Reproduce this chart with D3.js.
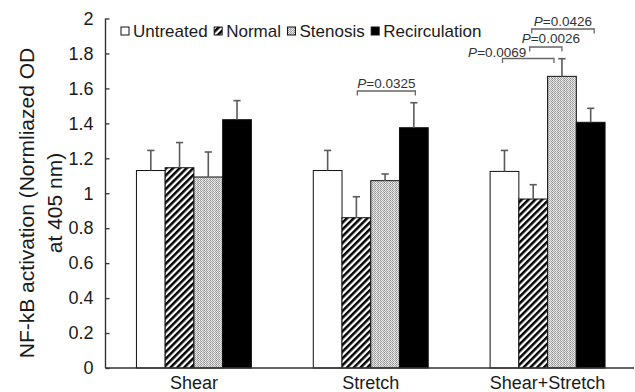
<!DOCTYPE html>
<html>
<head>
<meta charset="utf-8">
<script src="https://cdn.jsdelivr.net/npm/d3@7"></script>
<style>
  body { margin: 0; background: #fff; }
  svg { display: block; font-family: Arial, "Liberation Sans", sans-serif; }
</style>
</head>
<body>
<svg id="chart" width="635" height="392"></svg>
<script>
// NF-kB activation per flow condition
const categories = ["Shear", "Stretch", "Shear+Stretch"];
const seriesNames = ["Untreated", "Normal", "Stenosis", "Recirculation"];

const untreated        = [1.13, 1.13, 1.125];
const untreatedErr     = [0.115, 0.115, 0.12];
const normal           = [1.146, 0.86, 0.967];
const normalErr        = [0.144, 0.12, 0.082];
const stenosis         = [1.093, 1.072, 1.669];
const stenosisErr      = [0.143, 0.038, 0.101];
const recirculation    = [1.421, 1.375, 1.406];
const recirculationErr = [0.109, 0.143, 0.08];

const yTicks     = [0, 0.2, 0.4, 0.6, 0.8, 1, 1.2, 1.4, 1.6, 1.8, 2];
const tickLabels = ["0", "0.2", "0.4", "0.6", "0.8", "1", "1.2", "1.4", "1.6", "1.8", "2"];

// significance comparisons (level in axis units)
const comparisons = [
  { group: "Stretch",       from: "Normal",    to: "Recirculation", level: 1.585, p: "0.0325" },
  { group: "Shear+Stretch", from: "Untreated", to: "Stenosis",      level: 1.771, p: "0.0069" },
  { group: "Shear+Stretch", from: "Normal",    to: "Stenosis",      level: 1.837, p: "0.0026" },
  { group: "Shear+Stretch", from: "Normal",    to: "Recirculation", level: 1.94,  p: "0.0426" }
];
// bracket end / label nudges in px (l, r: bracket ends; t: label shift; b: label lift)
const bracketNudge = [
  { l: 1,    r: 1.5, t: 0,   b: 3 },
  { l: -2,   r: -8,  t: -31, b: 1.5 },
  { l: -3.5, r: 0,   t: 5,   b: 4 },
  { l: -1.5, r: 3.5, t: 0,   b: 3 }
];

const values = [untreated, normal, stenosis, recirculation];
const errors = [untreatedErr, normalErr, stenosisErr, recirculationErr];

const svg = d3.select("#chart");
const x0 = 105.5, xEnd = 634, yTop = 18.5, yBot = 368;

const x = d3.scaleBand().domain(categories).range([x0, xEnd + 2])
  .paddingInner(0.35).paddingOuter(0.175);
const xs = d3.scaleBand().domain(seriesNames).range([0, x.bandwidth()]).padding(0);
const y = d3.scaleLinear().domain([0, 2]).range([yBot, yTop]);

// fill patterns
const defs = svg.append("defs");
const hatch = defs.append("pattern").attr("id", "hatch")
  .attr("patternUnits", "userSpaceOnUse").attr("width", 4.8).attr("height", 4.8)
  .attr("patternTransform", "rotate(45)");
hatch.append("rect").attr("width", 4.8).attr("height", 4.8).attr("fill", "#fff");
hatch.append("rect").attr("width", 2.5).attr("height", 4.8).attr("fill", "#000");

const stip = defs.append("pattern").attr("id", "stipple")
  .attr("patternUnits", "userSpaceOnUse").attr("width", 6).attr("height", 2);
const stipCols = [["#8a8a8a", "#e6e6e6"], ["#f2f2f2", "#a8a8a8"], ["#9c9c9c", "#dcdcdc"],
                  ["#ececec", "#9a9a9a"], ["#b0b0b0", "#f0f0f0"], ["#dedede", "#a0a0a0"]];
stipCols.forEach((c, i) => {
  stip.append("rect").attr("x", i).attr("y", 0).attr("width", 1).attr("height", 1).attr("fill", c[0]);
  stip.append("rect").attr("x", i).attr("y", 1).attr("width", 1).attr("height", 1).attr("fill", c[1]);
});

const fills = ["#fff", "url(#hatch)", "url(#stipple)", "#000"];

// bars
const rows = [];
categories.forEach((cat, ci) => {
  seriesNames.forEach((s, si) => {
    rows.push({ cat, s, si, v: values[si][ci], e: errors[si][ci] });
  });
});

const g = svg.append("g");
g.selectAll("rect.bar").data(rows).join("rect")
  .attr("class", "bar")
  .attr("x", d => x(d.cat) + xs(d.s))
  .attr("y", d => y(d.v))
  .attr("width", xs.bandwidth())
  .attr("height", d => y(0) - y(d.v))
  .attr("fill", d => fills[d.si])
  .attr("stroke", "#111").attr("stroke-width", 1);

// error bars (upper only)
const errColor = "#5a5a5a";
const cx = d => x(d.cat) + xs(d.s) + xs.bandwidth() / 2;
g.selectAll("line.err").data(rows).join("line")
  .attr("x1", cx).attr("x2", cx)
  .attr("y1", d => y(d.v)).attr("y2", d => y(d.v + d.e))
  .attr("stroke", errColor).attr("stroke-width", 1.6);
g.selectAll("line.cap").data(rows).join("line")
  .attr("x1", d => cx(d) - 3.6).attr("x2", d => cx(d) + 3.6)
  .attr("y1", d => y(d.v + d.e)).attr("y2", d => y(d.v + d.e))
  .attr("stroke", errColor).attr("stroke-width", 1.6);

// axes
const yAxis = d3.axisLeft(y).tickValues(yTicks)
  .tickFormat((d, i) => tickLabels[i]).tickSize(-4).tickPadding(12);
const ya = svg.append("g").attr("transform", `translate(${x0},0)`).call(yAxis);
ya.select(".domain").remove();
ya.selectAll(".tick line").attr("stroke", "#333").attr("stroke-width", 1.3);
ya.selectAll(".tick text").attr("font-size", 18).attr("fill", "#1a1a1a")
  .attr("font-family", "Arial, 'Liberation Sans', sans-serif");
svg.append("line").attr("x1", x0).attr("x2", x0).attr("y1", y(2)).attr("y2", y(0))
  .attr("stroke", "#333").attr("stroke-width", 1.4);
svg.append("line").attr("x1", x0).attr("x2", xEnd).attr("y1", y(0)).attr("y2", y(0))
  .attr("stroke", "#333").attr("stroke-width", 1.4);

// category labels
svg.selectAll("text.cat").data(categories).join("text")
  .attr("class", "cat")
  .attr("x", d => x(d) + x.bandwidth() / 2).attr("y", 389)
  .attr("text-anchor", "middle").attr("font-size", 18).attr("fill", "#1a1a1a")
  .text(d => d);

// y title
const title = svg.append("text").attr("transform", "translate(0,203) rotate(-90)")
  .attr("text-anchor", "middle").attr("font-size", 21).attr("fill", "#1a1a1a");
title.append("tspan").attr("x", 0).attr("y", 34).text("NF-kB activation (Normliazed OD");
title.append("tspan").attr("x", 0).attr("y", 62).text("at 405 nm)");

// legend
const lg = svg.append("g");
let lx = 121;
seriesNames.forEach((s, i) => {
  lg.append("rect").attr("x", lx).attr("y", 27).attr("width", 8).attr("height", 8)
    .attr("fill", fills[i]).attr("stroke", "#111").attr("stroke-width", 1);
  const t = lg.append("text").attr("x", lx + 12).attr("y", 36.5)
    .attr("font-size", 17).attr("fill", "#1a1a1a").text(s);
  lx += 12 + t.node().getComputedTextLength() + 6.5;
});

// significance brackets
const bracketColor = "#666";
comparisons.forEach((c, i) => {
  const n = bracketNudge[i];
  const xl = x(c.group) + xs(c.from) + xs.bandwidth() / 2 + n.l;
  const xr = x(c.group) + xs(c.to) + xs.bandwidth() / 2 + n.r;
  const yy = y(c.level);
  svg.append("path")
    .attr("d", `M${xl},${yy + 4.5}V${yy}H${xr}V${yy + 4.5}`)
    .attr("fill", "none").attr("stroke", bracketColor).attr("stroke-width", 1.3);
  const t = svg.append("text").attr("x", (xl + xr) / 2 + n.t).attr("y", yy - n.b)
    .attr("text-anchor", "middle").attr("font-size", 13.5).attr("fill", "#333");
  t.append("tspan").attr("font-style", "italic").text("P");
  t.append("tspan").text("=" + c.p);
});
</script>
</body>
</html>
